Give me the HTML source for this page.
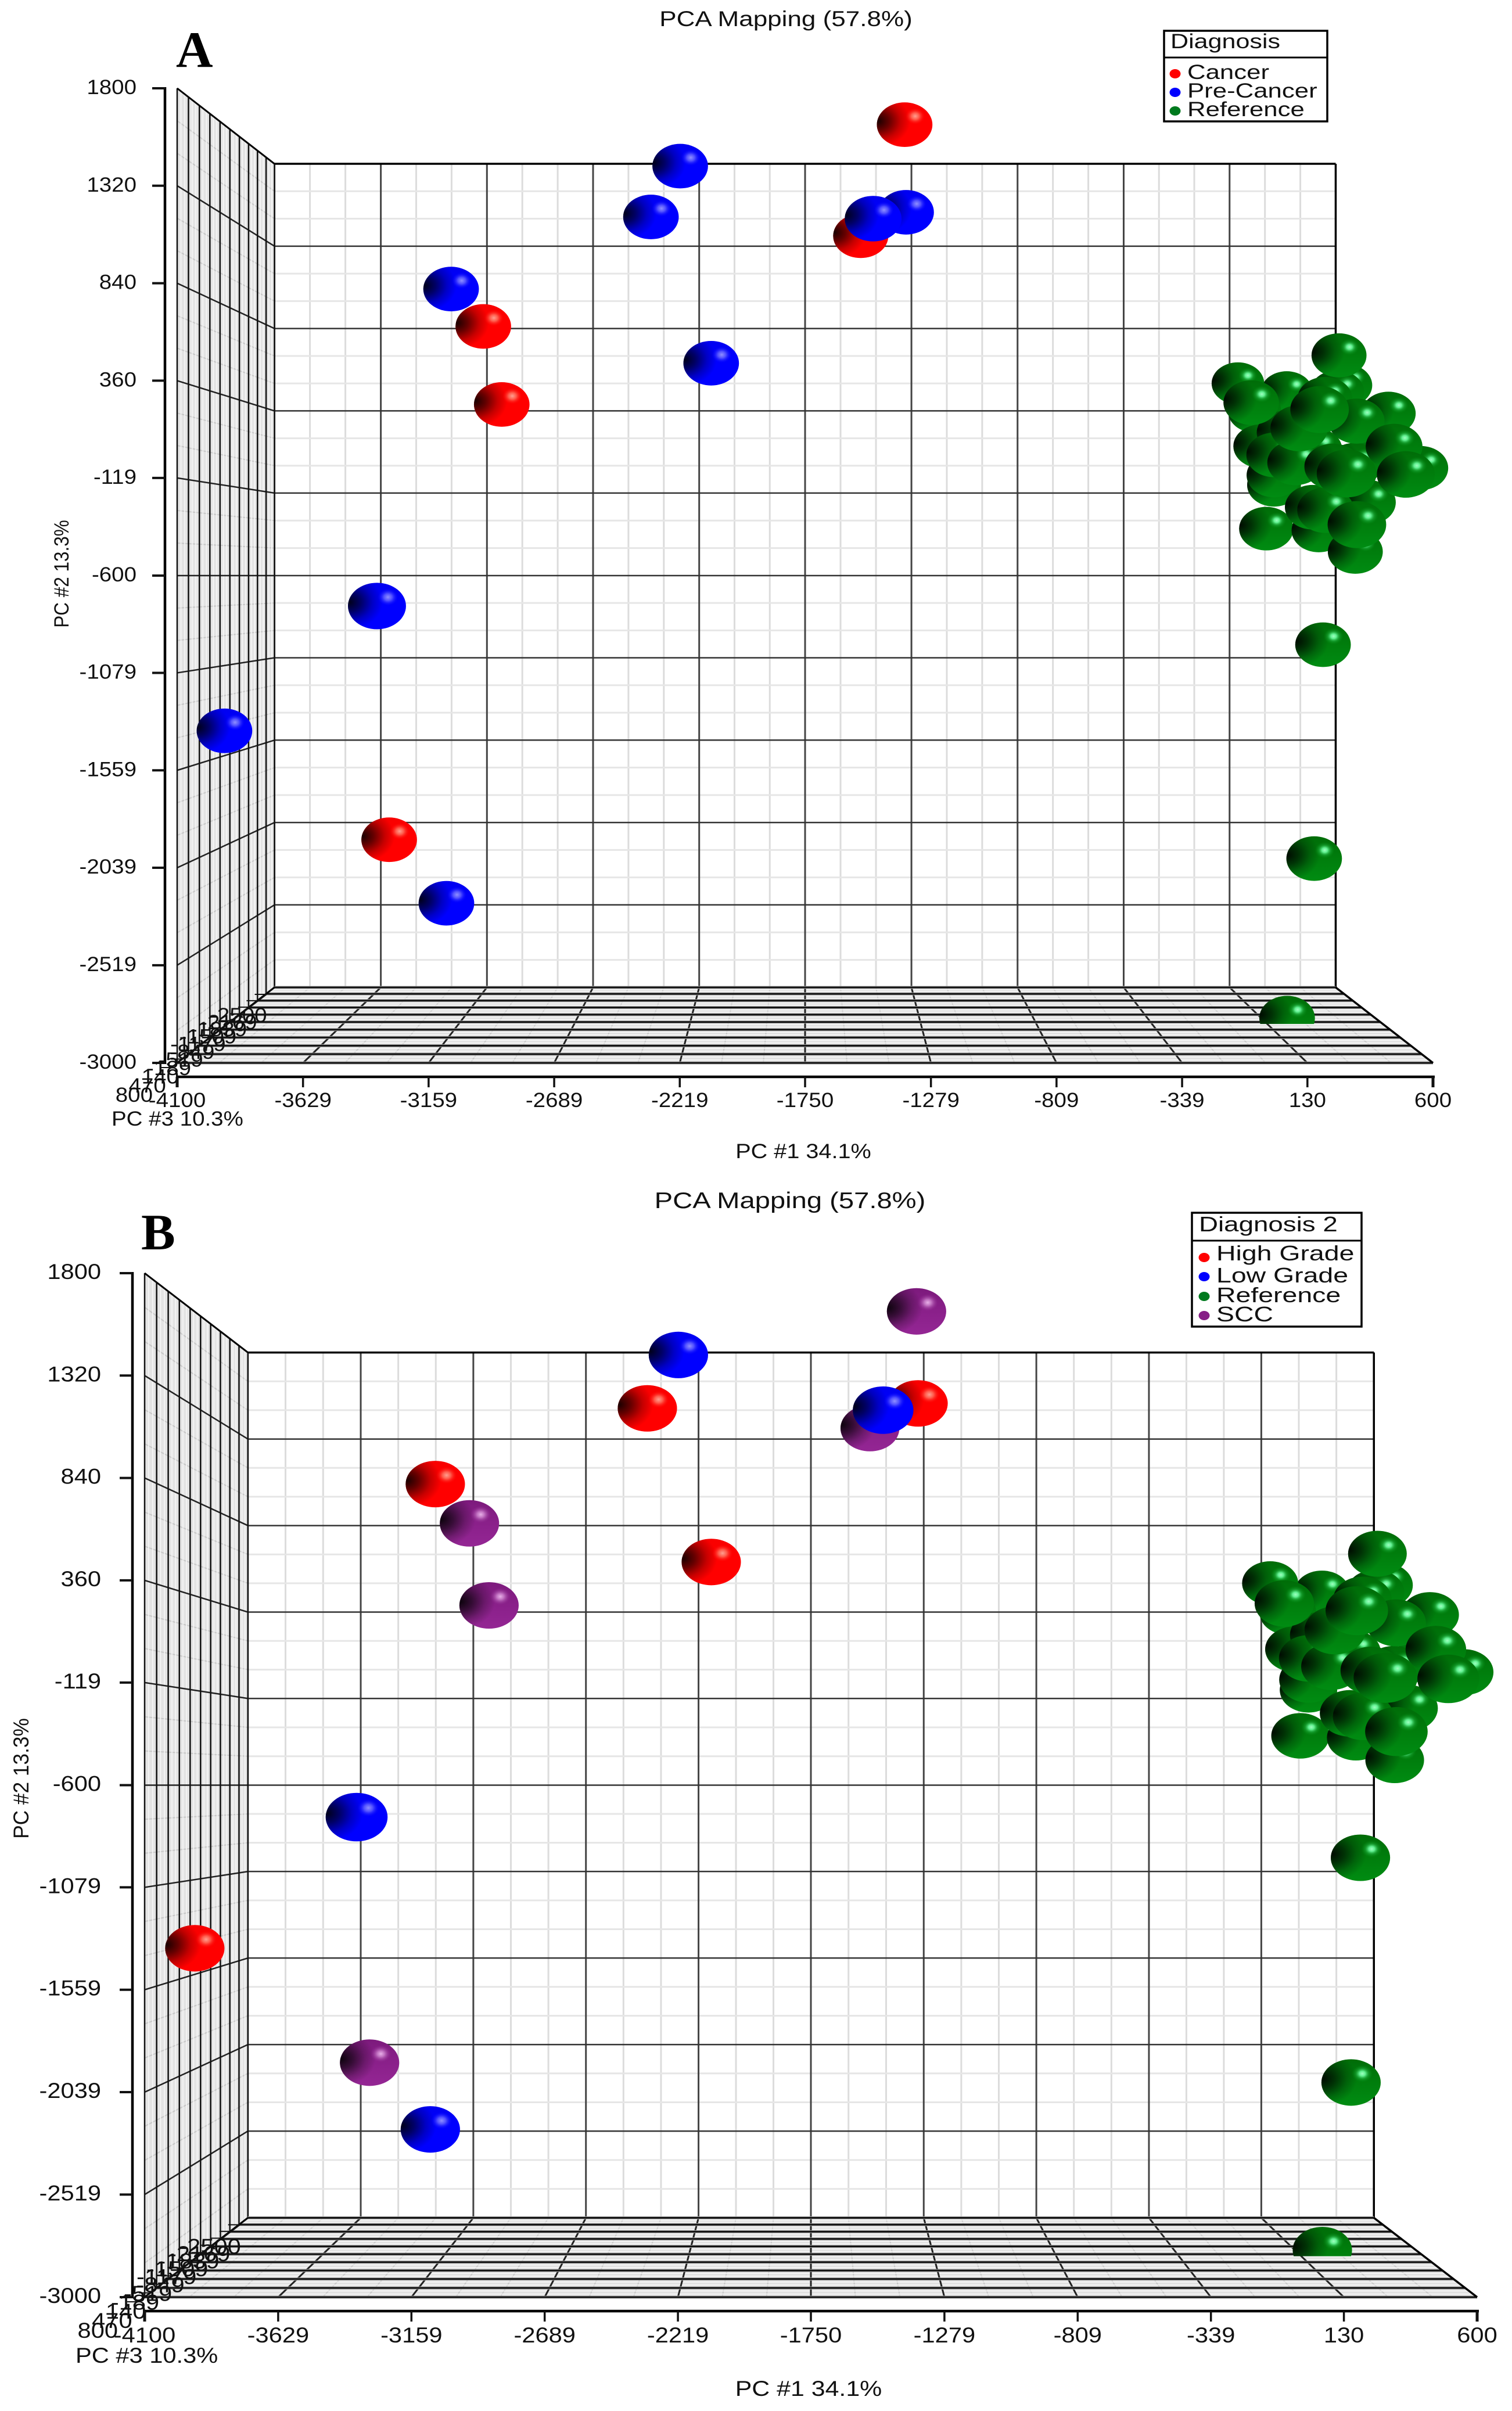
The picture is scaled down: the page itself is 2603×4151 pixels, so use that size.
<!DOCTYPE html>
<html lang="en">
<head>
<meta charset="utf-8">
<title>PCA Mapping panels A and B</title>
<style>
html,body{margin:0;padding:0;background:#fff;}
svg{display:block;}
text{font-family:"Liberation Sans",sans-serif;fill:#111;}
</style>
</head>
<body>
<svg id="figure" xmlns="http://www.w3.org/2000/svg" width="2603" height="4151" viewBox="0 0 2603 4151">
  <defs id="defs">
    <linearGradient id="body-red" x1="0" y1="0" x2="0" y2="1"><stop offset="0" stop-color="#f80000"/><stop offset=".4" stop-color="#ff0000"/><stop offset="1" stop-color="#ff0000"/></linearGradient>
    <linearGradient id="body-blue" x1="0" y1="0" x2="0" y2="1"><stop offset="0" stop-color="#0000f0"/><stop offset=".4" stop-color="#0000ff"/><stop offset="1" stop-color="#0000ff"/></linearGradient>
    <linearGradient id="body-green" x1="0" y1="0" x2="0" y2="1"><stop offset="0" stop-color="#006c08"/><stop offset=".45" stop-color="#007c0c"/><stop offset="1" stop-color="#008c12"/></linearGradient>
    <linearGradient id="body-purple" x1="0" y1="0" x2="0" y2="1"><stop offset="0" stop-color="#7c1a7c"/><stop offset=".5" stop-color="#8a208a"/><stop offset="1" stop-color="#942694"/></linearGradient>
    <radialGradient id="shade" cx=".02" cy=".42" r=".58">
      <stop offset="0" stop-color="#000" stop-opacity=".9"/><stop offset=".35" stop-color="#000" stop-opacity=".6"/><stop offset=".7" stop-color="#000" stop-opacity=".22"/><stop offset="1" stop-color="#000" stop-opacity="0"/>
    </radialGradient>
    <radialGradient id="glow-red"><stop offset="0" stop-color="#ff9f90"/><stop offset=".4" stop-color="#ff5a4a"/><stop offset="1" stop-color="#ff0000" stop-opacity="0"/></radialGradient>
    <radialGradient id="glow-blue"><stop offset="0" stop-color="#8f8fff"/><stop offset=".4" stop-color="#5050ff"/><stop offset="1" stop-color="#0000ff" stop-opacity="0"/></radialGradient>
    <radialGradient id="glow-green"><stop offset="0" stop-color="#a0ffc0"/><stop offset=".28" stop-color="#60f090"/><stop offset=".6" stop-color="#20b040" stop-opacity=".55"/><stop offset="1" stop-color="#008a10" stop-opacity="0"/></radialGradient>
    <radialGradient id="glow-purple"><stop offset="0" stop-color="#e8b0e8"/><stop offset=".35" stop-color="#c070c0"/><stop offset="1" stop-color="#8a208a" stop-opacity="0"/></radialGradient>
  </defs>
</svg>
<script>
// ---------- chart data ----------
const xTicks = [-4100,-3629,-3159,-2689,-2219,-1750,-1279,-809,-339,130,600];
const yTicks = [1800,1320,840,360,-119,-600,-1079,-1559,-2039,-2519,-3000];
const zTicks = [800,470,140,-189,-519,-849,-1179,-1509,-1839,-2169,-2500];

const pc1Values = [
  -1345,-1522,-3059,-2984,-3442,
  -2258,-2377,-1479,-1339,-3190,-2132,-3419,-4112,-3209,
  357,321,211,
  446,112,346,549,462,388,65,235,196,469,676,742,595,747,592,782,297,535,330,540,379,322,315,168,513,386,223,158,144,179,222,162,241,447
];
const pc2Values = [
  1814,1231,734,316,-2014,
  1592,1320,1270,1345,934,537,-756,-1431,-2354,
  -970,-2115,-2969,
  592,488,451,465,404,356,326,243,164,218,287,240,76,30,-81,-18,-92,7,-35,-208,-341,-257,-234,-343,-471,-353,-2,46,108,-57,-99,319,182,116
];
const pc3Values = [
  -765,-900,-765,-765,-765,
  -765,-765,-348,-765,-765,-765,50,-765,-765,
  -765,-765,-765,
  -980,-1889,-2128,-1654,-1199,-980,-765,244,-147,-554,-1199,-2128,-348,-1424,50,-980,618,-1199,-147,-765,244,-348,-765,-1199,-980,-1199,-554,-765,-1199,-980,-1424,-1654,-1199,-1889
];
const diagnosisPanelA = ['Cancer','Cancer','Cancer','Cancer','Cancer',
  'Pre-Cancer','Pre-Cancer','Pre-Cancer','Pre-Cancer','Pre-Cancer','Pre-Cancer','Pre-Cancer','Pre-Cancer','Pre-Cancer'];
const diagnosisPanelB = ['SCC','SCC','SCC','SCC','SCC',
  'Low Grade','High Grade','Low Grade','High Grade','High Grade','High Grade','Low Grade','High Grade','Low Grade'];
const legendCategoriesA = ['Cancer','Pre-Cancer','Reference'];
const legendCategoriesB = ['High Grade','Low Grade','Reference','SCC'];
const categoryColors = {'Cancer':'red','Pre-Cancer':'blue','Reference':'green','High Grade':'red','Low Grade':'blue','SCC':'purple'};
const solidColors = {red:'#ff0000',blue:'#0000ff',green:'#007a1e',purple:'#861f86'};

// ---------- panel layout ----------
const panels = [
  {id:'a',letter:'A',lx:303,ly:115,cx:1386,cy:991,hx:1081,hy:839,rx:52,ry:41.7,fs:35,sx:1.10,
   title:'PCA Mapping (57.8%)',tx:1353,ty:45,tfs:37,tsx:1.19,
   xl:[1383,1994],zl:[192,1938],yl:[106,988,.9],yLab:49,xLab:52,
   zOff:{fx:-42,fy:67,bx:-13,by:60},
   legend:{x:2004,y:53,w:281,h:156,div:99,title:'Diagnosis',tx:2015,ty:83,fs:35,sx:1.25,tsx:1.23,textX:2044,dotX:2023,
           cats:legendCategoriesA,base:[136,168,200],dots:[127,159,191]},
   classes:diagnosisPanelA},
  {id:'b',letter:'B',lx:243,ly:2151,cx:1396,cy:3073.5,hx:1147,hy:881.5,rx:55.5,ry:43.5,fs:37.5,sx:1.11,
   title:'PCA Mapping (57.8%)',tx:1360,ty:2080,tfs:39,tsx:1.21,
   xl:[1392,4125],zl:[130,4068],yl:[37,3062,.94],yLab:54,xLab:54,
   zOff:{fx:-46,fy:70,bx:-12,by:62},
   legend:{x:2052,y:2088,w:292,h:196,div:2136,title:'Diagnosis 2',tx:2064,ty:2120,fs:36,sx:1.29,tsx:1.27,textX:2094,dotX:2073,
           cats:legendCategoriesB,base:[2170,2208,2242,2275],dots:[2165,2198,2232,2265]},
   classes:diagnosisPanelB}
];

// ---------- helpers ----------
const NS = 'http://www.w3.org/2000/svg';
const svg = document.getElementById('figure');
const defs = document.getElementById('defs');
function mk(parent, tag, attrs){
  const n = document.createElementNS(NS, tag);
  for (const k in attrs) n.setAttribute(k, attrs[k]);
  parent.appendChild(n);
  return n;
}
function group(parent, name){
  const g = mk(parent, 'g', {});
  
  
  return g;
}
function seg(parent, name, a, b, stroke, w){
  const l = mk(parent, 'line', {x1:a.x,y1:a.y,x2:b.x,y2:b.y,stroke:stroke,'stroke-width':w});
  
  
  return l;
}
function label(parent, name, str, x, y, fs, sx, anchor, rot){
  const t = mk(parent, 'text', {'font-size':fs,'text-anchor':anchor||'start',
    transform:'translate('+x+' '+y+')'+(rot?' rotate('+rot+')':'')+' scale('+sx+' 1)'});
  t.textContent = str;
  
  
  return t;
}
function poly(parent, name, pts, fill){
  const p = mk(parent, 'polygon', {points:pts.map(q=>q.x+','+q.y).join(' '),fill:fill});
  
  
  return p;
}

// ---------- axis functions ----------
const xMin = xTicks[0], xMax = xTicks[xTicks.length-1];
const yMax = yTicks[0], yMin = yTicks[yTicks.length-1];
const zFront = zTicks[0], zBack = zTicks[zTicks.length-1];
const perspective = 0.1834;
function depthScale(z){ return 1/(1+perspective*(zFront-z)/(zFront-zBack)); }
function project(p, x, y, z){
  const s = depthScale(z);
  return {
    x: p.cx + ((x-(xMin+xMax)/2)/((xMax-xMin)/2))*p.hx*s,
    y: p.cy - ((y-(yMin+yMax)/2)/((yMax-yMin)/2))*p.hy*s,
    s: s
  };
}
function between(arr, i, frac){ return arr[i] + (arr[i+1]-arr[i])*frac; }

// ---------- drawing ----------
function drawWalls(p){
  const backG = group(svg, 'back-wall-'+p.id);
  poly(backG, 'back-wall-plane', [project(p,xMin,yMax,zBack),project(p,xMax,yMax,zBack),project(p,xMax,yMin,zBack),project(p,xMin,yMin,zBack)], '#ffffff');
  const leftG = group(svg, 'left-wall-'+p.id);
  poly(leftG, 'left-wall-plane', [project(p,xMin,yMax,zFront),project(p,xMin,yMax,zBack),project(p,xMin,yMin,zBack),project(p,xMin,yMin,zFront)], '#e4e4e4');
  const floorG = group(svg, 'floor-'+p.id);
  poly(floorG, 'floor-plane', [project(p,xMin,yMin,zBack),project(p,xMax,yMin,zBack),project(p,xMax,yMin,zFront),project(p,xMin,yMin,zFront)], '#e2e2e2');

  // minor lines first
  for (let i=0;i<xTicks.length-1;i++) for (const f of [1/3,2/3]){
    const x = between(xTicks,i,f);
    seg(backG,'back-minor-x-grid',project(p,x,yMax,zBack),project(p,x,yMin,zBack),'#dcdcdc',3);
    seg(floorG,'floor-minor-x-grid',project(p,x,yMin,zBack),project(p,x,yMin,zFront),'#c8c8c8',2);
  }
  for (let i=0;i<yTicks.length-1;i++) for (const f of [1/3,2/3]){
    const y = between(yTicks,i,f);
    seg(backG,'back-minor-y-grid',project(p,xMin,y,zBack),project(p,xMax,y,zBack),'#e6e6e6',3);
    seg(leftG,'left-minor-y-grid',project(p,xMin,y,zBack),project(p,xMin,y,zFront),'#c8c8c8',2);
  }
  for (let i=0;i<zTicks.length-1;i++) for (const f of [1/3,2/3]){
    const z = between(zTicks,i,f);
    seg(leftG,'left-minor-z-grid',project(p,xMin,yMax,z),project(p,xMin,yMin,z),'#f8f8f8',1.5);
    seg(floorG,'floor-minor-z-grid',project(p,xMin,yMin,z),project(p,xMax,yMin,z),'#f8f8f8',1.5);
  }
  // major lines
  xTicks.forEach(x=>{
    seg(backG,'back-major-x-grid',project(p,x,yMax,zBack),project(p,x,yMin,zBack),'#444',3);
    seg(floorG,'floor-major-x-grid',project(p,x,yMin,zBack),project(p,x,yMin,zFront),'#222',3);
  });
  yTicks.forEach(y=>{
    seg(backG,'back-major-y-grid',project(p,xMin,y,zBack),project(p,xMax,y,zBack),'#333',2.5);
    seg(leftG,'left-major-y-grid',project(p,xMin,y,zBack),project(p,xMin,y,zFront),'#222',2.5);
  });
  zTicks.forEach(z=>{
    seg(leftG,'left-major-z-grid',project(p,xMin,yMax,z),project(p,xMin,yMin,z),'#111',2.5);
    seg(floorG,'floor-major-z-halo',project(p,xMin,yMin,z),project(p,xMax,yMin,z),'#aaa',5);
    seg(floorG,'floor-major-z-grid',project(p,xMin,yMin,z),project(p,xMax,yMin,z),'#111',3);
  });
  // outlines
  seg(backG,'back-wall-top-edge',project(p,xMin,yMax,zBack),project(p,xMax,yMax,zBack),'#000',3.5);
  seg(backG,'back-wall-right-edge',project(p,xMax,yMax,zBack),project(p,xMax,yMin,zBack),'#000',3.5);
  seg(backG,'back-wall-bottom-edge',project(p,xMin,yMin,zBack),project(p,xMax,yMin,zBack),'#000',3.5);
  seg(leftG,'left-wall-top-edge',project(p,xMin,yMax,zFront),project(p,xMin,yMax,zBack),'#000',3);
  seg(floorG,'floor-right-edge',project(p,xMax,yMin,zBack),project(p,xMax,yMin,zFront),'#000',3.5);
  seg(floorG,'floor-left-edge',project(p,xMin,yMin,zBack),project(p,xMin,yMin,zFront),'#000',3);
}

function drawAxes(p){
  const axisX = project(p,xMin,yMax,zFront).x - 21;
  const axisY = project(p,xMin,yMin,zFront).y + 24;
  const yG = group(svg, 'y-axis-'+p.id);
  seg(yG,'y-axis-line',{x:axisX,y:project(p,xMin,yMax,zFront).y-2},{x:axisX,y:project(p,xMin,yMin,zFront).y+2},'#000',4.5);
  yTicks.forEach(y=>{
    const py = project(p,xMin,y,zFront).y;
    seg(yG,'y-axis-tick',{x:axisX-22,y:py},{x:axisX,y:py},'#111',4);
    label(yG,'y-tick-label',String(y),axisX-p.yLab,py+10,p.fs,p.sx,'end');
  });
  const xG = group(svg, 'x-axis-'+p.id);
  seg(xG,'x-axis-line',{x:project(p,xMin,yMin,zFront).x-2,y:axisY},{x:project(p,xMax,yMin,zFront).x+3,y:axisY},'#000',4.5);
  xTicks.forEach((x,i)=>{
    const px = project(p,x,yMin,zFront).x;
    const thick = (i===0||i===xTicks.length-1) ? 5 : 3.5;
    seg(xG,'x-axis-tick',{x:px,y:axisY},{x:px,y:axisY+18},'#111',thick);
    label(xG,'x-tick-label',String(x),px,axisY+p.xLab,p.fs,p.sx,'middle');
  });
  // depth axis
  const zG = group(svg, 'z-axis-'+p.id);
  const f0 = project(p,xMin,yMin,zFront), b0 = project(p,xMin,yMin,zBack);
  seg(zG,'z-axis-line',{x:f0.x-10,y:f0.y+8},{x:b0.x-14,y:b0.y+12},'#111',2.5);
  const sBack = depthScale(zBack);
  zTicks.forEach(z=>{
    const q = project(p,xMin,yMin,z);
    const u = (1-q.s)/(1-sBack);
    const ax = q.x-10-4*u, ay = q.y+8+4*u;
    seg(zG,'z-axis-tick',{x:ax-20,y:ay},{x:ax,y:ay},'#111',2);
    const ex = q.x + p.zOff.fx + (p.zOff.bx-p.zOff.fx)*u;
    const ey = q.y + p.zOff.fy + (p.zOff.by-p.zOff.fy)*u;
    label(zG,'z-tick-label',String(z),ex,ey,p.fs,p.sx,'end');
  });
  // titles
  label(svg,'panel-letter-'+p.id,p.letter,p.lx,p.ly,88,1,'start').setAttribute('style','font-family:"Liberation Serif",serif;font-weight:700;fill:#000');
  label(svg,'chart-title-'+p.id,p.title,p.tx,p.ty,p.tfs,p.tsx,'middle');
  label(svg,'x-axis-title-'+p.id,'PC #1 34.1%',p.xl[0],p.xl[1],p.fs,p.sx*1.03,'middle');
  label(svg,'z-axis-title-'+p.id,'PC #3 10.3%',p.zl[0],p.zl[1],p.fs,p.sx,'start');
  label(svg,'y-axis-title-'+p.id,'PC #2 13.3%',p.yl[0]+12,p.yl[1],p.fs,p.yl[2],'middle',-90);
}

function classOf(p, i){ return i < p.classes.length ? p.classes[i] : 'Reference'; }

function drawSpheres(p){
  const g = group(svg, 'sphere-markers-'+p.id);
  const order = pc1Values.map((_,i)=>i).sort((a,b)=>pc3Values[a]-pc3Values[b]);
  order.forEach(i=>{
    const q = project(p,pc1Values[i],pc2Values[i],pc3Values[i]);
    const rx = p.rx*q.s, ry = p.ry*q.s;
    const cat = classOf(p,i);
    const col = categoryColors[cat];
    const one = mk(g,'g',{});
    
    
    const floorY = project(p,pc1Values[i],yMin,pc3Values[i]).y;
    if (q.y+ry > floorY){
      const cid = 'clip-'+p.id+'-'+i;
      const c = mk(defs,'clipPath',{id:cid});
      mk(c,'rect',{x:q.x-rx-2,y:q.y-ry-2,width:2*rx+4,height:floorY-(q.y-ry-2)});
      one.setAttribute('clip-path','url(#'+cid+')');
    }
    mk(one,'ellipse',{cx:q.x,cy:q.y,rx:rx,ry:ry,fill:'url(#body-'+col+')'});
    mk(one,'ellipse',{cx:q.x,cy:q.y,rx:rx,ry:ry,fill:'url(#shade)'});
    mk(one,'ellipse',{cx:q.x+rx*.38,cy:q.y-ry*.38,rx:rx*.36,ry:ry*.38,fill:'url(#glow-'+col+')'});
  });
}

function drawLegend(p){
  const L = p.legend;
  const g = group(svg,'legend-'+p.id);
  const box = mk(g,'rect',{x:L.x,y:L.y,width:L.w,height:L.h,fill:'#fff',stroke:'#000','stroke-width':3.5});
  
  
  seg(g,'legend-divider',{x:L.x,y:L.div},{x:L.x+L.w,y:L.div},'#000',3);
  label(g,'legend-title',L.title,L.tx,L.ty,L.fs,L.tsx,'start');
  L.cats.forEach((c,i)=>{
    const d = mk(g,'ellipse',{cx:L.dotX,cy:L.dots[i],rx:9.5,ry:8,fill:solidColors[categoryColors[c]]});
    
    
    label(g,'legend-entry',c,L.textX,L.base[i],L.fs,L.sx,'start');
  });
}

panels.forEach(p=>{
  drawWalls(p);
  drawAxes(p);
  drawSpheres(p);
  drawLegend(p);
});
</script>
</body>
</html>
